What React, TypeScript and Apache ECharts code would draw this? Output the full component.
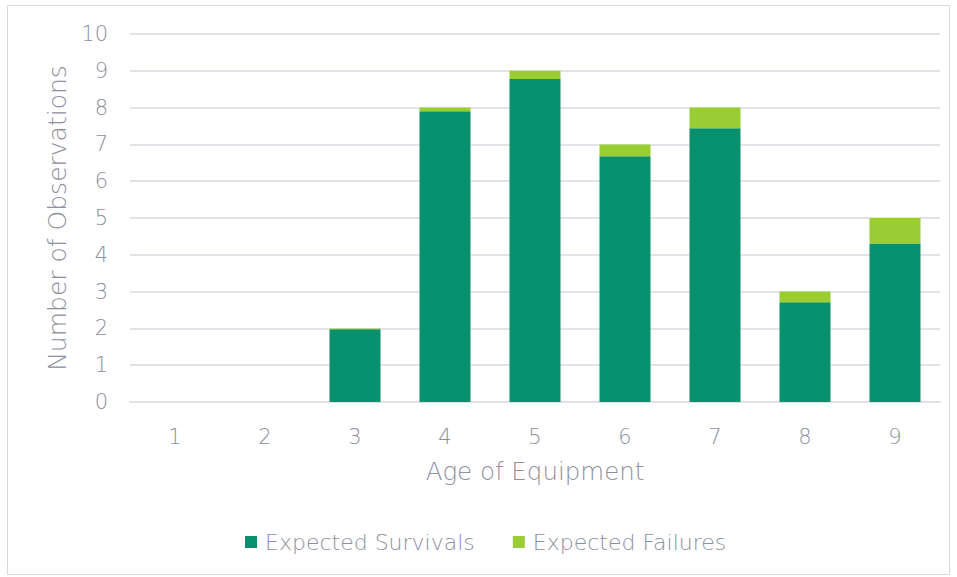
import React, { useEffect, useRef } from "react";
import * as echarts from "echarts";

const categories = ["1", "2", "3", "4", "5", "6", "7", "8", "9"];
const survivals = [0, 0, 1.98, 7.9, 8.78, 6.68, 7.44, 2.71, 4.31];
const failures = [0, 0, 0.02, 0.1, 0.22, 0.32, 0.56, 0.29, 0.69];
const yTicks = { min: 0, max: 10, interval: 1 };

const FONT = "DejaVu Sans";
const TEXT = "#8c90a0";

export default function App() {
  const ref = useRef<HTMLDivElement>(null);
  useEffect(() => {
    const chart = echarts.init(ref.current!, null, { renderer: "svg" });
    chart.setOption({
      animation: false,
      backgroundColor: "#ffffff",
      textStyle: { fontFamily: FONT, color: TEXT, fontWeight: 200 },
      graphic: [
        {
          type: "rect",
          shape: { x: 7.5, y: 5.5, width: 942, height: 569 },
          style: { fill: "none", stroke: "#d9d9d9", lineWidth: 1 },
          silent: true,
        },
      ],
      grid: { left: 130, right: 17, top: 34, bottom: 175 },
      legend: {
        bottom: 19,
        left: 240,
        itemWidth: 12,
        itemHeight: 12,
        itemGap: 38,
        icon: "rect",
        textStyle: { fontFamily: FONT, fontSize: 22, fontWeight: 200, color: TEXT, padding: [0, 0, 0, 3] },
        data: ["Expected Survivals", "Expected Failures"],
      },
      xAxis: {
        type: "category",
        data: categories,
        name: "Age of Equipment",
        nameLocation: "middle",
        nameGap: 57,
        nameTextStyle: { fontFamily: FONT, fontSize: 24.5, fontWeight: 200, color: TEXT },
        axisLine: { show: true, lineStyle: { color: "#e2e2e8", width: 2 } },
        axisTick: { show: false },
        axisLabel: { fontFamily: FONT, fontSize: 21, fontWeight: 200, color: TEXT, margin: 24 },
      },
      yAxis: {
        type: "value",
        min: yTicks.min,
        max: yTicks.max,
        interval: yTicks.interval,
        name: "Number of Observations",
        nameLocation: "middle",
        nameGap: 56,
        nameTextStyle: { fontFamily: FONT, fontSize: 25, fontWeight: 200, color: TEXT },
        axisLine: { show: false },
        axisTick: { show: false },
        axisLabel: { fontFamily: FONT, fontSize: 21, fontWeight: 200, color: TEXT, margin: 22 },
        splitLine: { lineStyle: { color: "#e2e2e8", width: 2 } },
      },
      series: [
        {
          name: "Expected Survivals",
          type: "bar",
          stack: "total",
          data: survivals,
          barWidth: 51,
          itemStyle: { color: "#07906e" },
        },
        {
          name: "Expected Failures",
          type: "bar",
          stack: "total",
          data: failures,
          barWidth: 51,
          itemStyle: { color: "#9acd32" },
        },
      ],
    });
    return () => chart.dispose();
  }, []);
  return (
    <div
      ref={ref}
      style={{ position: "absolute", left: 0, top: 0, width: 957, height: 577 }}
    />
  );
}
